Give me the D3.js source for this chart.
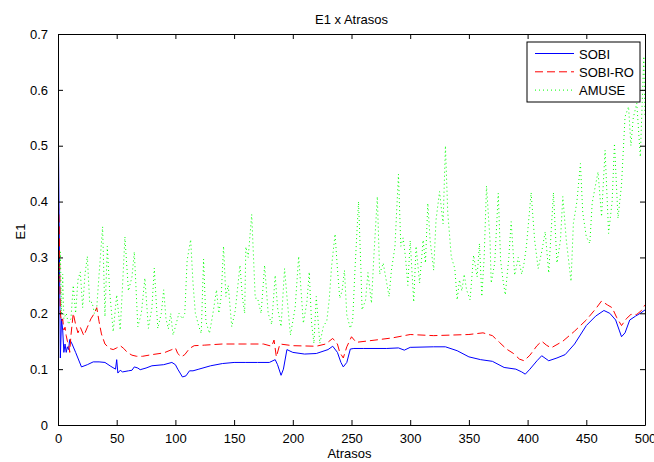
<!DOCTYPE html>
<html>
<head>
<meta charset="utf-8">
<script src="https://cdn.jsdelivr.net/npm/d3@7/dist/d3.min.js"></script>
<style>
	body{margin:0;background:#fff;}
	text{font-family:"Liberation Sans",Arial,sans-serif;font-size:13px;fill:#000;}
</style>
</head>
<body>
<script>
(function(){
	// Lags (x) and E1 values (y)
	let sobi = [[0,0.6],[1,0.36],[2,0.12],[3,0.19],[4,0.17],[5,0.13],[6,0.145],[7,0.13],[8,0.14],[9,0.135],[10,0.153],[12,0.145],[15,0.13],[20,0.104],[25,0.108],[30,0.113],[35,0.113],[40,0.112],[45,0.105],[49,0.1],[50,0.117],[51,0.093],[53,0.098],[55,0.095],[60,0.097],[63,0.098],[65,0.104],[68,0.102],[70,0.099],[75,0.102],[80,0.106],[90,0.108],[97,0.112],[100,0.108],[102,0.1],[104,0.093],[106,0.086],[109,0.088],[112,0.097],[115,0.097],[120,0.1],[130,0.106],[140,0.11],[150,0.112],[160,0.112],[170,0.112],[180,0.112],[185,0.117],[187,0.108],[190,0.089],[192,0.1],[195,0.135],[200,0.13],[210,0.127],[220,0.128],[230,0.135],[234,0.141],[238,0.13],[241,0.112],[243,0.104],[246,0.112],[249,0.136],[252,0.137],[260,0.137],[280,0.137],[290,0.138],[295,0.134],[300,0.139],[320,0.14],[330,0.14],[340,0.133],[350,0.122],[360,0.117],[370,0.114],[380,0.103],[390,0.1],[395,0.095],[398,0.091],[402,0.1],[408,0.115],[412,0.124],[418,0.115],[425,0.12],[432,0.126],[440,0.145],[450,0.178],[458,0.195],[465,0.205],[470,0.2],[475,0.188],[478,0.17],[480,0.158],[483,0.165],[487,0.188],[492,0.195],[496,0.2],[500,0.206]];

	let sobiRo = [[0,0.42],[1,0.36],[2,0.2],[3,0.185],[4,0.19],[5,0.17],[6,0.175],[7,0.16],[8,0.15],[9,0.145],[10,0.13],[11,0.16],[13,0.2],[15,0.18],[17,0.165],[19,0.175],[22,0.16],[25,0.175],[28,0.19],[31,0.2],[33,0.21],[35,0.185],[37,0.163],[40,0.145],[44,0.137],[47,0.135],[50,0.138],[53,0.142],[56,0.137],[59,0.13],[63,0.125],[67,0.123],[72,0.123],[80,0.126],[90,0.129],[97,0.135],[100,0.138],[102,0.128],[105,0.122],[108,0.126],[112,0.137],[116,0.142],[125,0.143],[140,0.145],[160,0.145],[175,0.145],[182,0.141],[184,0.152],[186,0.122],[189,0.145],[200,0.142],[220,0.141],[228,0.145],[234,0.155],[238,0.145],[240,0.13],[243,0.12],[246,0.14],[250,0.158],[254,0.148],[270,0.152],[285,0.156],[300,0.162],[320,0.16],[350,0.162],[362,0.165],[370,0.16],[376,0.148],[382,0.136],[388,0.128],[393,0.118],[397,0.115],[402,0.125],[408,0.142],[412,0.15],[416,0.143],[420,0.138],[430,0.15],[440,0.168],[450,0.188],[458,0.208],[463,0.222],[468,0.215],[472,0.21],[476,0.192],[480,0.178],[484,0.19],[488,0.198],[493,0.198],[497,0.205],[500,0.215]];

	let amuse = [[1,0.26],[2,0.31],[3,0.2],[4,0.27],[5,0.19],[7,0.2],[9,0.18],[11,0.19],[13,0.25],[15,0.2],[17,0.26],[19,0.274],[21,0.21],[23,0.27],[25,0.302],[27,0.218],[29,0.22],[31,0.2],[33,0.21],[35,0.27],[38,0.355],[40,0.194],[42,0.32],[44,0.24],[47,0.167],[50,0.233],[53,0.17],[55,0.25],[57,0.337],[60,0.24],[63,0.265],[65,0.31],[68,0.176],[71,0.2],[74,0.263],[77,0.173],[80,0.21],[82,0.281],[85,0.173],[88,0.2],[90,0.242],[92,0.19],[94,0.172],[96,0.2],[98,0.161],[100,0.176],[103,0.2],[106,0.19],[108,0.2],[110,0.295],[113,0.332],[115,0.254],[117,0.2],[120,0.176],[122,0.164],[124,0.297],[126,0.185],[129,0.164],[132,0.2],[135,0.242],[137,0.2],[139,0.23],[141,0.32],[143,0.23],[145,0.25],[148,0.176],[151,0.205],[155,0.286],[157,0.23],[159,0.2],[160,0.319],[162,0.3],[165,0.377],[168,0.227],[170,0.227],[173,0.2],[176,0.286],[179,0.2],[182,0.18],[185,0.268],[187,0.21],[190,0.176],[193,0.28],[195,0.23],[198,0.161],[202,0.21],[205,0.302],[209,0.182],[212,0.22],[214,0.274],[216,0.182],[218,0.146],[220,0.23],[223,0.146],[226,0.176],[229,0.187],[231,0.224],[233,0.283],[236,0.342],[238,0.28],[240,0.227],[242,0.24],[244,0.277],[246,0.197],[249,0.173],[251,0.187],[253,0.28],[256,0.4],[258,0.28],[259,0.206],[262,0.224],[264,0.273],[267,0.218],[269,0.3],[272,0.409],[274,0.27],[277,0.29],[280,0.254],[282,0.23],[284,0.277],[287,0.319],[290,0.449],[292,0.32],[294,0.335],[296,0.3],[298,0.25],[300,0.33],[303,0.22],[305,0.32],[308,0.254],[311,0.331],[313,0.29],[315,0.397],[317,0.33],[320,0.277],[322,0.367],[325,0.418],[328,0.36],[330,0.5],[332,0.38],[335,0.301],[338,0.28],[340,0.224],[342,0.26],[344,0.24],[346,0.27],[348,0.242],[351,0.224],[354,0.304],[357,0.265],[359,0.325],[361,0.23],[363,0.3],[365,0.428],[368,0.33],[369,0.254],[372,0.29],[375,0.415],[377,0.295],[379,0.26],[381,0.233],[384,0.3],[386,0.364],[389,0.268],[392,0.3],[395,0.27],[397,0.29],[399,0.32],[403,0.416],[406,0.331],[409,0.28],[412,0.31],[415,0.346],[418,0.272],[422,0.416],[425,0.29],[428,0.331],[430,0.409],[433,0.33],[437,0.257],[439,0.361],[442,0.4],[445,0.468],[447,0.38],[450,0.337],[453,0.325],[455,0.397],[457,0.42],[460,0.453],[463,0.373],[466,0.492],[469,0.343],[472,0.4],[474,0.504],[477,0.37],[480,0.43],[483,0.552],[486,0.57],[488,0.5],[490,0.55],[493,0.576],[496,0.48],[499,0.66],[500,0.55]];

	let xTicks = [0, 50, 100, 150, 200, 250, 300, 350, 400, 450, 500];
	let yTicks = [0, 0.1, 0.2, 0.3, 0.4, 0.5, 0.6, 0.7];

	let series = [
		{name: 'SOBI', values: sobi, color: '#0000ff', dash: null},
		{name: 'SOBI-RO', values: sobiRo, color: '#ff0000', dash: '8,4'},
		{name: 'AMUSE', values: amuse, color: '#00ff00', dash: '1,3'}
	];

	let width = 654, height = 462,
		box = {left: 58, right: 645, top: 34, bottom: 425};

	let x = d3.scaleLinear().domain([0, 500]).range([box.left, box.right]);
	let y = d3.scaleLinear().domain([0, 0.7]).range([box.bottom, box.top]);

	let svg = d3.select('body').append('svg')
		.attr('width', width)
		.attr('height', height);

	// Plot area background
	svg.append('rect')
		.attr('x', box.left).attr('y', box.top)
		.attr('width', box.right - box.left).attr('height', box.bottom - box.top)
		.attr('fill', '#fff');

	// Lines, clipped to the axes box
	svg.append('clipPath').attr('id', 'clip')
		.append('rect')
		.attr('x', box.left).attr('y', box.top)
		.attr('width', box.right - box.left).attr('height', box.bottom - box.top);

	let line = d3.line()
		.x(d => x(d[0]))
		.y(d => y(d[1]));

	svg.append('g').attr('clip-path', 'url(#clip)')
		.selectAll('path')
		.data(series).enter()
		.append('path')
			.attr('d', d => line(d.values))
			.attr('fill', 'none')
			.attr('stroke', d => d.color)
			.attr('stroke-width', 1)
			.attr('stroke-dasharray', d => d.dash);

	// Axes, ticks pointing inward on all four sides (box on)
	let bottomAxis = d3.axisBottom(x).tickValues(xTicks).tickSizeInner(-5).tickSizeOuter(0).tickPadding(9).tickFormat(d3.format('d'));
	let topAxis = d3.axisTop(x).tickValues(xTicks).tickSizeInner(-5).tickSizeOuter(0).tickFormat('');
	let leftAxis = d3.axisLeft(y).tickValues(yTicks).tickSizeInner(-5).tickSizeOuter(0).tickPadding(10).tickFormat(d => d === 0 ? '0' : d3.format('.1f')(d));
	let rightAxis = d3.axisRight(y).tickValues(yTicks).tickSizeInner(-5).tickSizeOuter(0).tickFormat('');

	svg.append('g').attr('transform', 'translate(0,' + box.bottom + ')').call(bottomAxis);
	svg.append('g').attr('transform', 'translate(0,' + box.top + ')').call(topAxis);
	svg.append('g').attr('transform', 'translate(' + box.left + ',0)').call(leftAxis);
	svg.append('g').attr('transform', 'translate(' + box.right + ',0)').call(rightAxis);

	svg.selectAll('.domain, .tick line').attr('stroke', '#000');
	svg.selectAll('.tick text')
		.attr('font-family', '"Liberation Sans", Arial, sans-serif')
		.attr('font-size', 13)
		.attr('fill', '#000');

	// Title and axis labels
	svg.append('text')
		.attr('x', (box.left + box.right) / 2)
		.attr('y', 24)
		.attr('text-anchor', 'middle')
		.text('E1 x Atrasos');
	svg.append('text')
		.attr('x', (box.left + box.right) / 2 - 2)
		.attr('y', 458)
		.attr('text-anchor', 'middle')
		.text('Atrasos');
	svg.append('text')
		.attr('transform', 'translate(25,' + ((box.top + box.bottom) / 2 + 2) + ') rotate(-90)')
		.attr('text-anchor', 'middle')
		.text('E1');

	// Legend
	let legend = svg.append('g').attr('transform', 'translate(527,42)');
	legend.append('rect')
		.attr('width', 113).attr('height', 60)
		.attr('fill', '#fff')
		.attr('stroke', '#000');
	let item = legend.selectAll('.item')
		.data(series).enter()
		.append('g')
			.attr('class', 'item')
			.attr('transform', (d, i) => 'translate(0,' + (11.5 + i * 18.3) + ')');
	item.append('line')
		.attr('x1', 8).attr('x2', 47)
		.attr('stroke', d => d.color)
		.attr('stroke-dasharray', d => d.dash);
	item.append('text')
		.attr('x', 52)
		.attr('y', 5)
		.text(d => d.name);
})();
</script>
</body>
</html>
